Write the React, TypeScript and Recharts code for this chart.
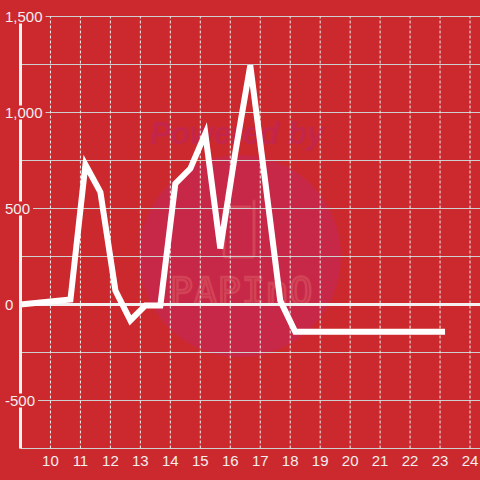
import { CartesianGrid, Line, LineChart, ReferenceLine, XAxis, YAxis } from 'recharts';

// half-hour readings, hours as decimals (x.167 = x:10)
const times = [
  9, 10.667, 11.167, 11.667, 12.167, 12.667, 13.167, 13.667, 14.167, 14.667, 15.167, 15.667,
  16.167, 16.667, 17.167, 17.667, 18.167, 18.667, 19.167, 19.667, 20.167, 20.667, 21.167,
  21.667, 22.167, 22.667, 23.167,
];
const values = [
  0, 26, 729, 585, 73, -83, -5, -5, 630, 708, 890, 292,
  790, 1245, 640, 20, -142, -142, -142, -142, -142, -142, -142,
  -142, -142, -142, -142,
];
const xTicks = [10, 11, 12, 13, 14, 15, 16, 17, 18, 19, 20, 21, 22, 23, 24];
const yTicks = [-750, -500, -250, 0, 250, 500, 750, 1000, 1250, 1500];
const labelledY = [-500, 0, 500, 1000, 1500];

const data = times.map((t, i) => ({ t, v: values[i] }));

const BG = '#cc292e';
const TEXT = '#f2eeee';
const FONT = '"Liberation Sans", Arial, sans-serif';

// rough text width for 15px Liberation Sans
function textWidth(s: string) {
  let w = 0;
  for (const c of s) w += c === ',' ? 4.2 : c === '-' ? 5 : 8.34;
  return w;
}

function YTick({ y, payload }: any) {
  const v = payload.value as number;
  if (!labelledY.includes(v)) return null;
  const label = v.toLocaleString('en-US');
  const w = textWidth(label);
  return (
    <g>
      <rect x={3} y={y - 7} width={w + 5} height={14} fill={BG} />
      <text x={5} y={y} dy="0.35em" fill={TEXT} fontSize={15} fontFamily={FONT} textAnchor="start">
        {label}
      </text>
    </g>
  );
}

function XTick({ x, payload }: any) {
  return (
    <text x={x} y={466} fill={TEXT} fontSize={15} fontFamily={FONT} textAnchor="middle">
      {payload.value}
    </text>
  );
}

function Watermark() {
  return (
    <svg width={480} height={480} style={{ position: 'absolute', left: 0, top: 0 }}>
      <circle cx={240} cy={256} r={101} fill="#c82848" />
      <text
        x={150}
        y={144}
        fontSize={31}
        fontWeight="bold"
        fontStyle="italic"
        fontFamily={FONT}
        fill="#c3264a"
      >
        Powered by
      </text>
      <path
        d="M227 207 L250 207 M254 201 L254 255 Q254 257 252 257 L226 257 Q224 257 224 255 L224 210"
        fill="none"
        stroke="#d4485a"
        strokeWidth={3}
        strokeLinejoin="round"
        strokeLinecap="round"
        opacity={0.85}
      />
      <text
        x={170}
        y={304}
        fontSize={38}
        fontFamily='"DejaVu Sans Mono", monospace'
        fill="none"
        stroke="#d4485a"
        strokeWidth={2.5}
        letterSpacing={1}
        opacity={0.85}
      >
        PAPInO
      </text>
    </svg>
  );
}

export default function App() {
  return (
    <div style={{ position: 'absolute', left: 0, top: 0, width: 480, height: 480, background: BG, overflow: 'hidden' }}>
      <Watermark />
      <div style={{ position: 'absolute', left: 0, top: 0 }}>
        {/* half-pixel offsets keep the 1px grid lines crisp */}
        <LineChart width={480} height={480} data={data} margin={{ top: 16.5, right: 0, bottom: 0, left: 0.5 }}>
          <CartesianGrid vertical={false} stroke="#cfcfcf" strokeWidth={1} />
          <XAxis
            dataKey="t"
            type="number"
            domain={[9, 24.333]}
            ticks={xTicks}
            allowDataOverflow
            height={31.5}
            axisLine={false}
            tickLine={false}
            tick={<XTick />}
          />
          <YAxis
            type="number"
            domain={[-750, 1500]}
            ticks={yTicks}
            allowDataOverflow
            width={20}
            axisLine={{ stroke: '#f4f4f4', strokeWidth: 3 }}
            tickLine={false}
            tick={<YTick />}
          />
          {xTicks.map((t) => (
            <ReferenceLine key={t} x={t} stroke="#eeeeee" strokeWidth={1} strokeDasharray="3 2" />
          ))}
          <ReferenceLine y={0} stroke="#f4f0f0" strokeWidth={3} />
          <Line
            type="linear"
            dataKey="v"
            stroke="#ffffff"
            strokeWidth={6}
            dot={false}
            activeDot={false}
            isAnimationActive={false}
          />
        </LineChart>
      </div>
    </div>
  );
}
